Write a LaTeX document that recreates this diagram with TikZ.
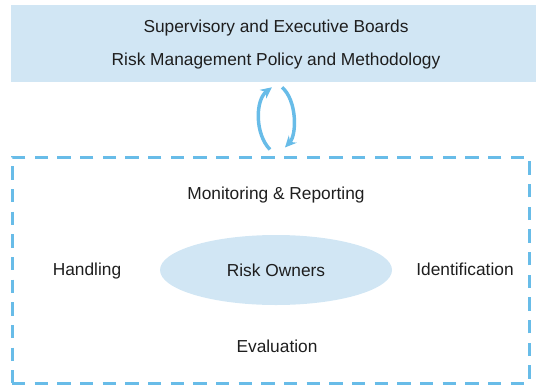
\documentclass[tikz,border=0pt]{standalone}
\usepackage{fontspec}
\setmainfont{Liberation Sans}
\usetikzlibrary{shapes.geometric,arrows.meta,fit}

\definecolor{paleblue}{RGB}{209,230,244}
\definecolor{lineblue}{RGB}{104,188,232}
\definecolor{inkgrey}{RGB}{30,30,30}

\tikzset{
  plain text/.style={font=\fontsize{13}{16}\selectfont, text=inkgrey, inner sep=0pt},
  board box/.style={fill=paleblue, draw=none, inner sep=0pt},
  process box/.style={draw=lineblue, line width=2.25pt, dash pattern=on 10pt off 7pt, inner sep=0pt},
  owner blob/.style={ellipse, fill=paleblue, draw=none, minimum width=174pt, minimum height=52.5pt, plain text},
  cycle arrow/.style={draw=lineblue, line width=2.6pt, -{Stealth[length=8.5pt,width=8pt]}}
}

\begin{document}
\begin{tikzpicture}[x=0.75pt,y=-0.75pt]
  \useasboundingbox (0,0) rectangle (536,386);

  % upper block
  \node (boards) [board box, fit={(11,5) (536,82)}] {};
  \node (line1) at (276,32) [plain text, anchor=base] {Supervisory and Executive Boards};
  \node (line2) at (276,65) [plain text, anchor=base] {Risk Management Policy and Methodology};

  % process block
  \node (process) [process box, fit={(12,157) (529,383)}] {};
  \node (owners) at (276,270) [owner blob] {Risk Owners};
  \node (monitor) at (276,199) [plain text, anchor=base] {Monitoring \& Reporting};
  \node (handle) at (87,275) [plain text, anchor=base] {Handling};
  \node (ident) at (465,275) [plain text, anchor=base] {Identification};
  \node (evaluate) at (277,352) [plain text, anchor=base] {Evaluation};

  % feedback loop
  \draw [cycle arrow] ([shift={(-0.5,-6)}]process.north) .. controls +(-15,-15) and +(-17,13) .. ([shift={(-1.5,5)}]boards.south);
  \draw [cycle arrow] ([shift={(8.5,5)}]boards.south) .. controls +(15,13) and +(12,-13) .. ([shift={(14.5,-8)}]process.north);
\end{tikzpicture}
\end{document}
